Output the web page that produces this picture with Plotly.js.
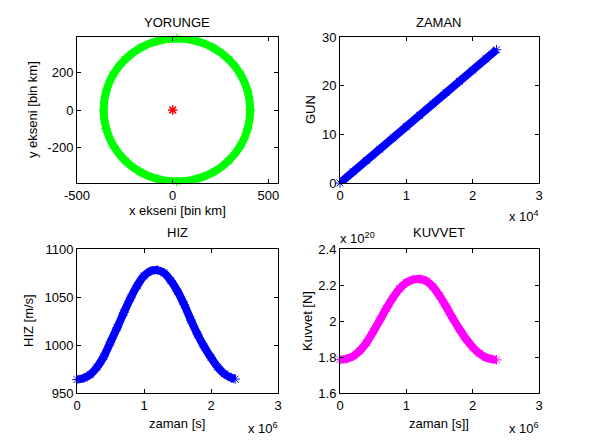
<!DOCTYPE html>
<html>
<head>
<meta charset="utf-8">
<script src="https://cdn.plot.ly/plotly-3.0.1.min.js"></script>
<style>html,body{margin:0;padding:0;background:#fff;}#chart{width:596px;height:446px;}</style>
</head>
<body>
<div id="chart"></div>
<script>
// ---- Data ----
// YORUNGE (orbit), thousand km
const orbitX = [405, 392, 354, 293, 214, 121, 22, -77, -170, -249, -310, -348, -361, -348, -310, -249, -170, -77, 22, 121, 214, 293, 354, 392, 405];
const orbitY = [0, 99, 191, 270, 331, 369, 382, 369, 331, 270, 191, 99, 0, -99, -191, -270, -331, -369, -382, -369, -331, -270, -191, -99, 0];
const earthX = [0];
const earthY = [0];

// ZAMAN: step vs days
const stepX = [0, 2000, 4000, 6000, 8000, 10000, 12000, 14000, 16000, 18000, 20000, 22000, 23600];
const gunY = [0, 2.32, 4.64, 6.96, 9.28, 11.6, 13.92, 16.24, 18.56, 20.88, 23.2, 25.52, 27.38];

// time axis (s) for HIZ and KUVVET
const zaman = [0, 1e5, 2e5, 3e5, 4e5, 5e5, 6e5, 7e5, 8e5, 9e5, 1.0e6, 1.1e6, 1.2e6, 1.3e6, 1.4e6, 1.5e6, 1.6e6, 1.7e6, 1.8e6, 1.9e6, 2.0e6, 2.1e6, 2.2e6, 2.3e6, 2.36e6];
// HIZ (m/s)
const hiz = [964, 965.5, 969.5, 977, 988, 1003, 1018, 1034, 1049, 1062, 1072, 1077, 1078, 1075, 1067, 1056, 1042, 1026, 1011, 998, 987, 977, 970, 966, 964.5];
// KUVVET (N)
const kuvvet = [1.785e20, 1.79e20, 1.805e20, 1.835e20, 1.88e20, 1.94e20, 2.005e20, 2.07e20, 2.13e20, 2.18e20, 2.213e20, 2.23e20, 2.233e20, 2.222e20, 2.19e20, 2.14e20, 2.08e20, 2.015e20, 1.955e20, 1.9e20, 1.855e20, 1.82e20, 1.797e20, 1.787e20, 1.784e20];

// tick labels
const orbitXTicks = [-500, 0, 500];
const orbitXTickText = ['-500', '0', '500'];
const orbitYTicks = [-200, 0, 200];
const orbitYTickText = ['-200', '0', '200'];
const stepTicks = [0, 10000, 20000, 30000];
const stepTickText = ['0', '1', '2', '3'];
const gunTicks = [0, 10, 20, 30];
const zamanTicks = [0, 1e6, 2e6, 3e6];
const zamanTickText = ['0', '1', '2', '3'];
const hizTicks = [950, 1000, 1050, 1100];
const kuvvetTicks = [1.6e20, 1.8e20, 2.0e20, 2.2e20, 2.4e20];
const kuvvetTickText = ['1.6', '1.8', '2', '2.2', '2.4'];

// ---- Drawing ----
const W = 596, H = 446;
const FONT = 'Liberation Sans, Arial, Helvetica, sans-serif';
const px = (x) => x / W;
const py = (y) => 1 - y / H;

function axisStyle(extra) {
  return Object.assign({
    showline: true, mirror: 'ticks', linecolor: '#000', linewidth: 1,
    ticks: 'inside', ticklen: 4, tickcolor: '#000', tickwidth: 1,
    showgrid: false, zeroline: false, fixedrange: true,
    tickfont: {family: FONT, size: 13, color: '#000'}
  }, extra);
}

function bandTrace(x, y, color, xa, ya, shape) {
  return {
    x: x, y: y, xaxis: xa, yaxis: ya, type: 'scatter', mode: 'lines+markers',
    cliponaxis: false,
    line: {color: color, width: 8, shape: shape || 'spline'},
    marker: {symbol: 'asterisk-open', size: 8, color: color, line: {color: color, width: 1}},
    hoverinfo: 'skip'
  };
}

const traces = [
  bandTrace(orbitX, orbitY, '#00ff00', 'x', 'y'),
  {x: earthX, y: earthY, xaxis: 'x', yaxis: 'y', type: 'scatter', mode: 'markers',
   marker: {symbol: 'asterisk-open', size: 8, color: '#ff0000', line: {color: '#ff0000', width: 1.5}}},
  bandTrace(stepX, gunY, '#0000ff', 'x2', 'y2', 'linear'),
  bandTrace(zaman, hiz, '#0000ff', 'x3', 'y3'),
  bandTrace(zaman, kuvvet, '#ff00ff', 'x4', 'y4')
];

const colL = [px(77), px(278)];
const colR = [px(340), px(539)];
const rowT = [py(183), py(37)];
const rowB = [py(393), py(249)];

function ann(text, x, y, opts) {
  return Object.assign({
    text: text, x: px(x), y: py(y), xref: 'paper', yref: 'paper',
    showarrow: false, xanchor: 'center', yanchor: 'middle',
    font: {family: FONT, size: 13, color: '#000'}
  }, opts || {});
}

const layout = {
  width: W, height: H,
  margin: {l: 0, r: 0, t: 0, b: 0},
  paper_bgcolor: '#fff', plot_bgcolor: '#fff',
  showlegend: false,
  xaxis: axisStyle({domain: colL, anchor: 'y', range: [-500, 550], tickvals: orbitXTicks, ticktext: orbitXTickText}),
  yaxis: axisStyle({domain: rowT, anchor: 'x', range: [-390, 390], tickvals: orbitYTicks, ticktext: orbitYTickText}),
  xaxis2: axisStyle({domain: colR, anchor: 'y2', range: [0, 30000], tickvals: stepTicks, ticktext: stepTickText}),
  yaxis2: axisStyle({domain: rowT, anchor: 'x2', range: [0, 30], tickvals: gunTicks}),
  xaxis3: axisStyle({domain: colL, anchor: 'y3', range: [0, 3e6], tickvals: zamanTicks, ticktext: zamanTickText}),
  yaxis3: axisStyle({domain: rowB, anchor: 'x3', range: [950, 1100], tickvals: hizTicks}),
  xaxis4: axisStyle({domain: colR, anchor: 'y4', range: [0, 3e6], tickvals: zamanTicks, ticktext: zamanTickText}),
  yaxis4: axisStyle({domain: rowB, anchor: 'x4', range: [1.6e20, 2.4e20], tickvals: kuvvetTicks, ticktext: kuvvetTickText}),
  annotations: [
    ann('YORUNGE', 177, 22),
    ann('ZAMAN', 439, 22),
    ann('HIZ', 177, 233),
    ann('KUVVET', 439, 233),
    ann('x ekseni [bin km]', 177, 211),
    ann('zaman [s]', 177, 423),
    ann('zaman [s]]', 439, 423),
    ann('y ekseni [bin km]', 32, 110, {textangle: -90}),
    ann('GUN', 310, 110, {textangle: -90}),
    ann('HIZ [m/s]', 28, 321, {textangle: -90}),
    ann('Kuvvet [N]', 307, 321, {textangle: -90}),
    ann('x 10<sup>4</sup>', 541, 216, {xanchor: 'right'}),
    ann('x 10<sup>6</sup>', 280, 428, {xanchor: 'right'}),
    ann('x 10<sup>6</sup>', 541, 428, {xanchor: 'right'}),
    ann('x 10<sup>20</sup>', 338, 238, {xanchor: 'left'})
  ]
};

Plotly.newPlot('chart', traces, layout, {staticPlot: true, displayModeBar: false});
</script>
</body>
</html>
